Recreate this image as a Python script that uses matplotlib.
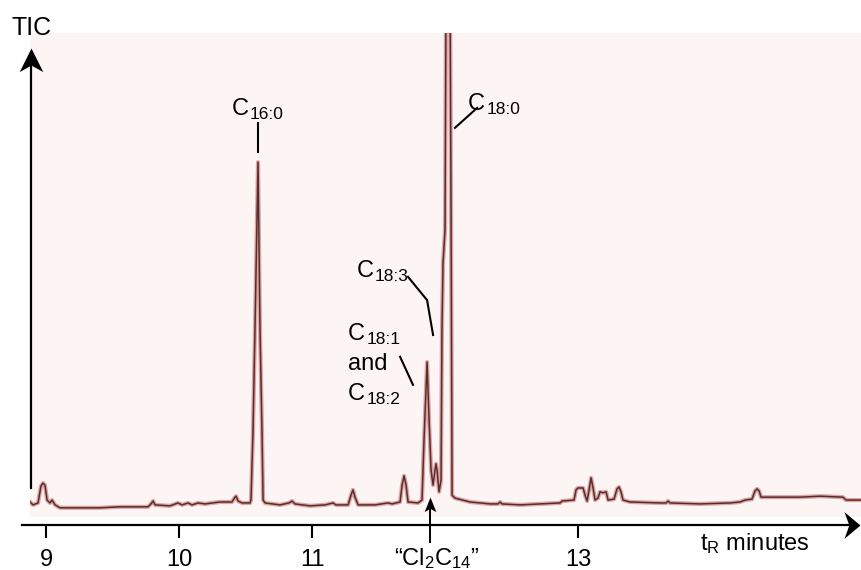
import numpy as np
import matplotlib.pyplot as plt
from matplotlib.patches import Rectangle
from matplotlib.path import Path

plt.rcParams['font.family'] = ['Liberation Sans', 'DejaVu Sans']
plt.rcParams['mathtext.fontset'] = 'custom'
plt.rcParams['mathtext.rm'] = 'Liberation Sans'
plt.rcParams['mathtext.it'] = 'Liberation Sans:italic'
plt.rcParams['mathtext.bf'] = 'Liberation Sans:bold'
plt.rcParams['mathtext.default'] = 'regular'

# chromatogram trace: retention time (min), TIC (% of frame height)
t_min = [8.880, 8.902, 8.940, 8.962, 8.977, 8.992, 9.008, 9.030, 9.045, 9.068,
         9.105, 9.406, 9.556, 9.767, 9.789, 9.805, 9.820, 9.932, 9.992, 10.023,
         10.068, 10.098, 10.143, 10.195, 10.308, 10.398, 10.421, 10.429, 10.444, 10.474,
         10.534, 10.541, 10.556, 10.571, 10.594, 10.609, 10.624, 10.632, 10.647, 10.759,
         10.827, 10.850, 10.872, 10.985, 11.098, 11.158, 11.180, 11.271, 11.293, 11.308,
         11.323, 11.346, 11.474, 11.571, 11.602, 11.662, 11.677, 11.692, 11.707, 11.722,
         11.797, 11.827, 11.842, 11.865, 11.880, 11.895, 11.910, 11.925, 11.932, 11.940,
         11.955, 11.970, 11.977, 11.985, 12.000, 12.011, 12.034, 12.045, 12.053, 12.075,
         12.188, 12.338, 12.398, 12.414, 12.429, 12.564, 12.865, 12.880, 12.970, 12.985,
         13.000, 13.038, 13.053, 13.068, 13.083, 13.098, 13.113, 13.128, 13.150, 13.165,
         13.188, 13.211, 13.226, 13.271, 13.293, 13.308, 13.323, 13.338, 13.391, 13.617,
         13.662, 13.677, 13.692, 13.917, 14.143, 14.218, 14.256, 14.308, 14.331, 14.346,
         14.361, 14.376, 14.669, 14.820, 14.992, 15.015, 15.135]
tic = [3.1, 2.5, 2.9, 6.4, 7.0, 6.6, 3.5, 2.9, 3.5, 2.5,
       1.9, 1.9, 2.1, 2.1, 2.7, 3.3, 2.5, 2.3, 2.9, 2.5,
       2.9, 2.5, 2.9, 2.7, 3.1, 3.1, 4.1, 4.3, 3.3, 2.9,
       2.9, 3.5, 17.4, 38.6, 73.3, 38.6, 17.4, 3.5, 2.9, 2.5,
       2.9, 3.3, 2.7, 2.3, 2.5, 2.9, 2.5, 2.5, 4.5, 5.6,
       4.1, 2.5, 2.5, 2.9, 2.7, 3.1, 6.6, 8.5, 6.6, 3.1,
       2.9, 3.5, 15.9, 32.0, 20.0, 9.7, 6.6, 9.7, 11.0, 9.7,
       5.2, 7.6, 38.6, 52.5, 59.3, 130.0, 130.0, 65.5, 4.5, 3.9,
       3.1, 2.7, 2.7, 3.1, 2.7, 2.5, 2.9, 3.3, 3.5, 5.6,
       6.0, 6.0, 4.5, 3.3, 5.6, 8.1, 6.0, 3.5, 3.9, 5.2,
       5.0, 5.2, 3.5, 3.7, 5.8, 6.2, 5.2, 3.5, 3.1, 2.9,
       2.9, 3.3, 2.9, 2.7, 2.9, 3.1, 3.5, 3.7, 5.4, 5.8,
       5.4, 4.1, 4.1, 4.3, 4.1, 3.5, 3.5]

tick_pos = [9, 10, 11, 13]
tick_lab = ['9', '10', '11', '13']
std_time = 11.887  # internal standard "Cl2C14"

fig = plt.figure(figsize=(8.62, 5.70), dpi=100)
ax = fig.add_axes([0, 0, 1, 1])
ax.set_xlim(8.654, 15.135)
ax.set_ylim(-10.95, 106.8)

# pale pink scanned paper
bg = Rectangle((8.88, 0), 15.135 - 8.88, 100, facecolor='#fdf5f4',
               edgecolor='none', zorder=0)
ax.add_patch(bg)

halo, = ax.plot(t_min, tic, color='#dba5a5', lw=3.0, zorder=2, solid_joinstyle='round')
line, = ax.plot(t_min, tic, color='#5a2c2c', lw=1.1, zorder=3)
halo.set_clip_path(bg)
line.set_clip_path(bg)

# axes
for s in ['top', 'right', 'left']:
    ax.spines[s].set_visible(False)
ax.spines['bottom'].set_position(('data', -1.65))
ax.spines['bottom'].set_bounds(8.82, 15.05)
ax.spines['bottom'].set_linewidth(1.6)
ax.set_yticks([])
ax.set_xticks(tick_pos, tick_lab)
ax.tick_params(axis='x', direction='out', length=9, width=1.5, labelsize=17, pad=8)

# swept-back arrow heads as markers (tip at the marker origin)
head_up = Path([(0, 0), (0.5, -1), (0, -0.72), (-0.5, -1), (0, 0)],
               [Path.MOVETO, Path.LINETO, Path.LINETO, Path.LINETO, Path.CLOSEPOLY])
head_right = Path([(0, 0), (-0.6, 0.5), (-0.42, 0), (-0.6, -0.5), (0, 0)],
                  [Path.MOVETO, Path.LINETO, Path.LINETO, Path.LINETO, Path.CLOSEPOLY])
head_small = Path([(0, 0), (0.4, -1), (0, -0.78), (-0.4, -1), (0, 0)],
                  [Path.MOVETO, Path.LINETO, Path.LINETO, Path.LINETO, Path.CLOSEPOLY])

ax.plot([8.887, 8.887], [6.0, 95.0], color='k', lw=1.6)
ax.plot(8.887, 96.9, marker=head_up, ms=34, color='k', mew=0)
ax.plot(15.12, -1.65, marker=head_right, ms=23, color='k', mew=0)
ax.plot([std_time, std_time], [-5.2, 3.0], color='k', lw=1.4)
ax.plot(std_time, 4.1, marker=head_small, ms=21, color='k', mew=0)

ax.text(8.895, 99.6, 'TIC', fontsize=18, ha='center', va='baseline')
ax.text(13.917, -6.8, 't$_R$ minutes', fontsize=17, ha='left', va='baseline')
ax.text(std_time + 0.05, -9.9, '“Cl$_2$C$_{14}$”', fontsize=17, ha='center', va='baseline')


def c_label(x, y, sub):
    c = ax.text(x, y, 'C', fontsize=17, va='baseline')
    ax.annotate(sub, xy=(1, 0), xycoords=c, xytext=(0.8, -1.6),
                textcoords='offset points', fontsize=12.5, va='bottom')


# peak labels and leader lines
c_label(10.398, 83.1, '16:0')
ax.plot([10.594, 10.594], [81.4, 75.4], color='k', lw=1.5)

c_label(12.173, 84.1, '18:0')
ax.plot([12.075, 12.241], [80.4, 84.5], color='k', lw=1.5)

c_label(11.338, 49.6, '18:3')
ax.plot([11.722, 11.865, 11.910], [49.6, 44.8, 37.6], color='k', lw=1.5)

c_label(11.271, 36.6, '18:1')
ax.text(11.271, 30.4, 'and', fontsize=17, va='baseline')
c_label(11.271, 24.2, '18:2')
ax.plot([11.662, 11.759], [33.1, 27.3], color='k', lw=1.5)

fig.savefig('out.png', dpi=100)
